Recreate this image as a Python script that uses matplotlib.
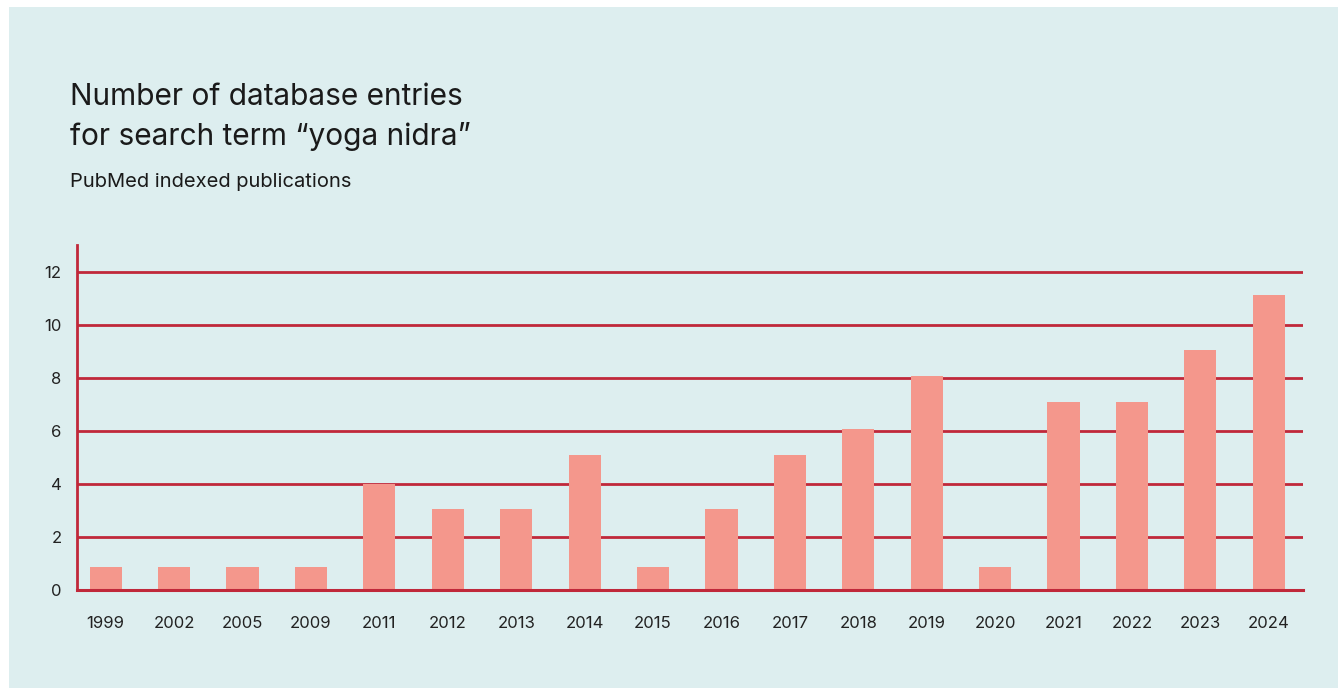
import matplotlib.pyplot as plt
import matplotlib.patches as patches
import numpy as np

# PubMed entries per year for "yoga nidra"
years = ["1999", "2002", "2005", "2009", "2011", "2012", "2013", "2014", "2015",
         "2016", "2017", "2018", "2019", "2020", "2021", "2022", "2023", "2024"]
entries = [0.85, 0.85, 0.85, 0.85, 4.0, 3.05, 3.05, 5.1, 0.85,
           3.05, 5.1, 6.05, 8.05, 0.85, 7.1, 7.1, 9.05, 11.1]
y_ticks = [0, 2, 4, 6, 8, 10, 12]

panel_color = "#ddeeef"
line_color = "#c0283a"
bar_color = "#f4978c"
text_color = "#222222"

plt.rcParams['font.family'] = ['Inter', 'DejaVu Sans']

fig = plt.figure(figsize=(13.38, 6.88), dpi=100, facecolor="white")

#light teal panel behind everything, leaving a thin white border top/left
fig.patches.append(patches.Rectangle((9 / 1338, 0), 1, 1 - 7 / 688,
                                     transform=fig.transFigure, facecolor=panel_color,
                                     edgecolor="none", zorder=-10))

ax = fig.add_axes([77 / 1338, 1 - 590 / 688, (1303 - 77) / 1338, (590 - 245) / 688])
ax.set_facecolor("none")

x = np.arange(len(years))
ax.bar(x, entries, width=0.47, color=bar_color, zorder=3)

#horizontal gridlines behind the bars, baseline on top (not clipped)
for v in y_ticks:
    if v == 0:
        ax.axhline(v, color=line_color, linewidth=2.2, zorder=4, clip_on=False)
    else:
        ax.axhline(v, color=line_color, linewidth=2, zorder=1)

ax.set_xlim(-0.42, len(years) - 0.5)
ax.set_ylim(0, 13)
ax.set_yticks(y_ticks)
ax.set_xticks(x)
ax.set_xticklabels(years)

for side in ["top", "right", "bottom"]:
    ax.spines[side].set_visible(False)
ax.spines["left"].set_color(line_color)
ax.spines["left"].set_linewidth(2)
ax.spines["left"].set_zorder(5)

ax.tick_params(axis="both", length=0, colors=text_color, labelsize=12)
ax.tick_params(axis="x", pad=19)
ax.tick_params(axis="y", pad=11)

fig.text(70 / 1338, 1 - 105 / 688, "Number of database entries", fontsize=21.5,
         color="#1a1a1a", ha="left", va="baseline")
fig.text(70 / 1338, 1 - 145 / 688, "for search term \u201cyoga nidra\u201d", fontsize=21.5,
         color="#1a1a1a", ha="left", va="baseline")
fig.text(70 / 1338, 1 - 187 / 688, "PubMed indexed publications", fontsize=14.5,
         color="#1a1a1a", ha="left", va="baseline")

fig.savefig("out.png", dpi=100, facecolor=fig.get_facecolor())
